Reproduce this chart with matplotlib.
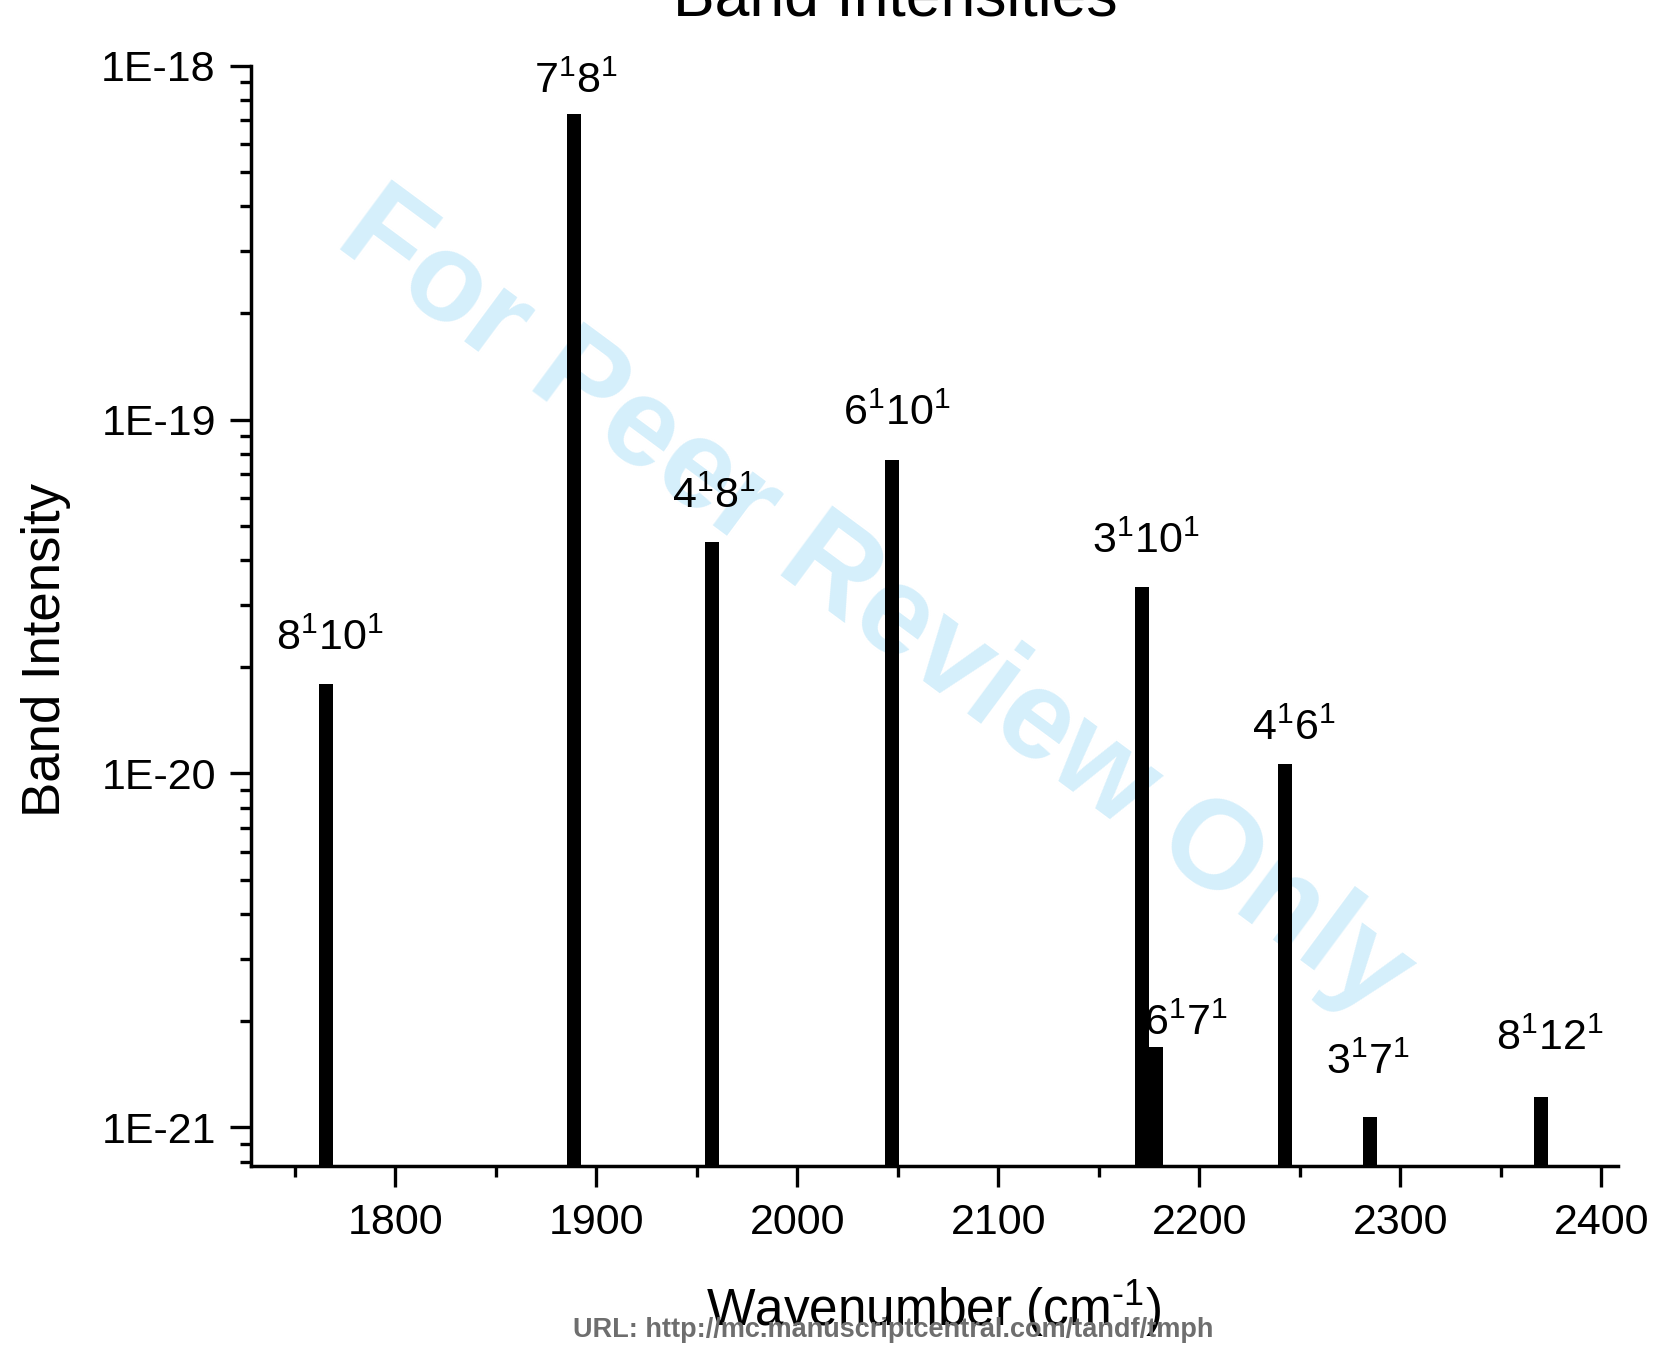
import matplotlib
matplotlib.use("Agg")
import matplotlib.pyplot as plt
from matplotlib.ticker import FixedLocator, FuncFormatter, MultipleLocator, NullFormatter

# ---------------- data ----------------
band_labels = ["8^{1}10^{1}", "7^{1}8^{1}", "4^{1}8^{1}", "6^{1}10^{1}", "3^{1}10^{1}",
               "6^{1}7^{1}", "4^{1}6^{1}", "3^{1}7^{1}", "8^{1}12^{1}"]
wavenumbers = [1765.5, 1888.8, 1957.6, 2047.2, 2171.3, 2178.2, 2242.8, 2285.0, 2369.9]
intensities = [1.79e-20, 7.28e-19, 4.52e-20, 7.67e-20, 3.36e-20, 1.69e-21, 1.066e-20, 1.07e-21, 1.22e-21]
# label anchor points (data coordinates)
label_x = [1767.4, 1889.9, 1958.3, 2049.7, 2173.3, 2193.3, 2246.9, 2283.7, 2374.1]
label_y = [2.23e-20, 8.36e-19, 5.64e-20, 9.64e-20, 4.21e-20, 1.83e-21, 1.24e-20, 1.42e-21, 1.66e-21]
y_major = [1e-21, 1e-20, 1e-19, 1e-18]
y_tick_labels = ["1E-21", "1E-20", "1E-19", "1E-18"]

plt.rcParams['font.family'] = ['Liberation Sans', 'DejaVu Sans']
plt.rcParams['mathtext.fontset'] = 'custom'
plt.rcParams['mathtext.rm'] = 'Liberation Sans'
plt.rcParams['mathtext.it'] = 'Liberation Sans'
plt.rcParams['mathtext.bf'] = 'Liberation Sans:bold'
plt.rcParams['axes.unicode_minus'] = False

fig = plt.figure(figsize=(16.57, 13.46), dpi=100)
ax = fig.add_axes([0.1512, 0.134, 0.825, 0.8173])
ax.set_zorder(1)
ax.patch.set_alpha(0)

ax.set_yscale('log')
ax.bar(wavenumbers, intensities, width=7, color='black', linewidth=0, zorder=2)

ax.set_xlim(1728, 2408)
ax.set_ylim(7.8e-22, 1e-18)

for lx, ly, lab in zip(label_x, label_y, band_labels):
    ax.text(lx, ly, "$\\mathregular{" + lab + "}$", ha='center', va='baseline', fontsize=31, zorder=3)

# axes styling
for s in ['top', 'right']:
    ax.spines[s].set_visible(False)
for s in ['left', 'bottom']:
    ax.spines[s].set_linewidth(2.5)

ax.yaxis.set_major_locator(FixedLocator(y_major))
ax.yaxis.set_major_formatter(FuncFormatter(lambda v, p: y_tick_labels[y_major.index(min(y_major, key=lambda m: abs(m - v) / m))]))
minors = [m * d for d in [1e-22, 1e-21, 1e-20, 1e-19] for m in range(2, 10)]
ax.yaxis.set_minor_locator(FixedLocator(minors))
ax.yaxis.set_minor_formatter(NullFormatter())
ax.xaxis.set_major_locator(MultipleLocator(100))
ax.xaxis.set_minor_locator(MultipleLocator(50))

ax.tick_params(which='major', direction='out', length=15, width=2.4, labelsize=31)
ax.tick_params(axis='y', which='major', pad=10)
ax.tick_params(axis='x', which='major', pad=12)
ax.tick_params(which='minor', direction='out', length=8, width=2.4)

# titles / labels
fig.text(0.5404, 1 - 15 / 1346, "Band Intensities", ha='center', va='baseline', fontsize=45)
fig.text(46 / 1657, 0.517, "Band Intensity", rotation=90, ha='center', va='center', fontsize=38)
fig.text(0.5637, 20 / 1346, "Wavenumber (cm$^{\\text{-1}}$)", ha='center', va='baseline', fontsize=37)

# watermark and footer
fig.text(0.528, 0.551, "For Peer Review Only", rotation=-36.5, fontsize=91, fontweight='bold',
         color='#d5effb', ha='center', va='center', zorder=0.5)
fig.text(0.539, 9 / 1346, "URL: http://mc.manuscriptcentral.com/tandf/tmph", ha='center', va='baseline',
         fontsize=19.5, fontweight='bold', color='#6e6e6e', zorder=5)

fig.savefig("out.png", dpi=100)
